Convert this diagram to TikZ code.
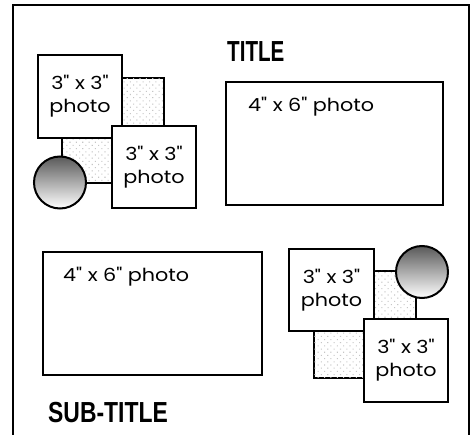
\documentclass[tikz,border=0pt]{standalone}
\usepackage{fontspec}
\newfontfamily\photofont[FakeStretch=1.15]{Poppins}
\newfontfamily\titlefont{Liberation Sans}
\usetikzlibrary{patterns.meta}
\begin{document}
\begin{tikzpicture}[x=1pt,y=-1pt,
  frame/.style={line width=2.4pt},
  box/.style={draw, line width=2pt, fill=white, inner sep=0pt, align=center,
    font=\photofont\fontsize{18}{23}\selectfont},
  dotbox/.style={draw, line width=2pt, fill=white, inner sep=0pt,
    postaction={pattern={Dots[distance=4.5pt,angle=45,radius=0.75pt]}, pattern color=gray!45}},
  ball/.style={circle, draw, line width=2pt, inner sep=0pt, minimum size=52pt,
    top color=black!65, bottom color=white},
  lbl/.style={font=\photofont\fontsize{18}{20}\selectfont, anchor=base west, inner sep=0pt},
  ttl/.style={font=\titlefont\bfseries\fontsize{29}{30}\selectfont, anchor=base west, inner sep=0pt}]
\useasboundingbox (0,0) rectangle (474,435);
% outer frame (open at the bottom)
\coordinate (fbl) at (13,436);
\coordinate (ftl) at (13,5);
\coordinate (ftr) at (469,5);
\coordinate (fbr) at (469,436);
\draw[frame] (fbl) -- (ftl) -- (ftr) -- (fbr);
% titles
\node[ttl] (title) at (227,62) {\scalebox{0.71}[1]{TITLE}};
\node[ttl] (subtitle) at (48,423) {\scalebox{0.79}[1]{SUB-TITLE}};
% 4x6 photos
\node[box, minimum width=217pt, minimum height=123pt] (big1) at (334.5,143.5) {};
\node[lbl] (big1t) at (248,111.5) {4" x 6" photo};
\node[box, minimum width=219pt, minimum height=123pt] (big2) at (152.5,313.5) {};
\node[lbl] (big2t) at (63,281.5) {4" x 6" photo};
% top-left group
\node[dotbox, minimum width=102pt, minimum height=105pt] (dot1) at (113,130.5) {};
\node[ball] (ball1) at (60,182.5) {};
\node[box, minimum width=84pt, minimum height=83pt] (sq1) at (80,96.5) {3" x 3"\\photo};
\node[box, minimum width=84pt, minimum height=82pt] (sq2) at (154,167) {3" x 3"\\photo};
% bottom-right group
\node[dotbox, minimum width=102pt, minimum height=107pt] (dot2) at (365,324.5) {};
\node[ball] (ball2) at (422,272) {};
\node[box, minimum width=85pt, minimum height=82pt] (sqA) at (331.5,290) {3" x 3"\\photo};
\node[box, minimum width=84pt, minimum height=83pt] (sqB) at (406,360.5) {3" x 3"\\photo};
\end{tikzpicture}
\end{document}
